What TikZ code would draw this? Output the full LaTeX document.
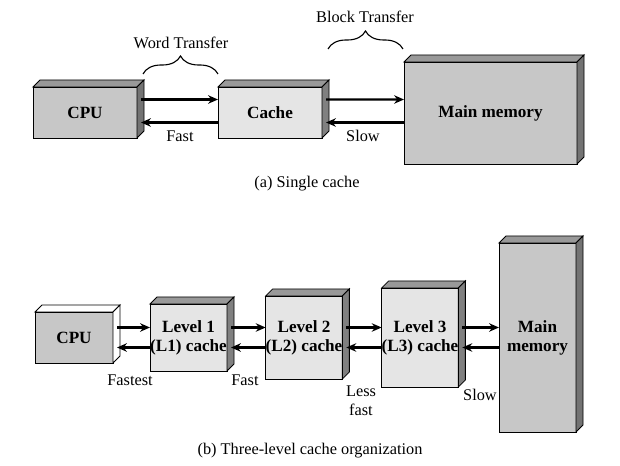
\documentclass[tikz,border=0pt]{standalone}
\usepackage{fontspec}
\setmainfont{Liberation Serif}
\usetikzlibrary{arrows.meta,decorations.pathreplacing}

\tikzset{
  unit/.style={draw=black,line width=.6pt,inner sep=0pt,outer sep=0pt,align=center,font=\fontsize{12.2}{13.5}\selectfont\bfseries},
  flow/.style={line width=1.6pt,-{Stealth[length=7pt,width=6pt]}},
  curly/.style={decorate,decoration={brace,amplitude=.45cm},line width=.8pt},
}
% top and side face of a block
\newcommand\unitfaces[3]{%
  \path[fill=#2,draw=black,line width=.6pt] (#1.north west) -- ++(7,-7) -- ([shift={(7,-7)}]#1.north east) -- (#1.north east) -- cycle;
  \path[fill=#3,draw=black,line width=.6pt] (#1.north east) -- ([shift={(7,-7)}]#1.north east) -- ([shift={(7,-7)}]#1.south east) -- (#1.south east) -- cycle;}

\begin{document}
\begin{tikzpicture}[x=.025cm,y=-.025cm,font=\fontsize{11.6}{13.5}\selectfont]
\useasboundingbox (0,0) rectangle (620,466);
% (a) single cache
\node[unit,fill=black!22,minimum width=2.6cm,minimum height=1.275cm] (cpu) at (85,112.5) {CPU};
\unitfaces{cpu}{black!40}{black!55}
\node[unit,fill=black!10,minimum width=2.6cm,minimum height=1.275cm] (cache) at (270,112.5) {Cache};
\unitfaces{cache}{black!40}{black!50}
\node[unit,fill=black!22,minimum width=4.325cm,minimum height=2.55cm] (mem) at (490.5,113) {Main memory};
\unitfaces{mem}{black!40}{black!55}
\draw[flow] ([shift={(4,-13)}]cpu.east) -- ([shift={(0,-13)}]cache.west);
\draw[flow] ([shift={(0,10)}]cache.west) -- ([shift={(4,10)}]cpu.east);
\draw[flow] ([shift={(4,-13)}]cache.east) -- ([shift={(0,-13.5)}]mem.west);
\draw[flow] ([shift={(0,9.5)}]mem.west) -- ([shift={(4,10)}]cache.east);
\draw[curly] ([shift={(6,-13)}]cpu.north east) -- ([shift={(0,-13)}]cache.north west);
\draw[curly] ([shift={(6,-38)}]cache.north east) -- ([shift={(-1,-13)}]mem.north west);
\node (word) at (181,43) {Word Transfer};
\node (block) at (365,17) {Block Transfer};
\node (fast) at (180,136) {Fast};
\node (slow) at (363,136) {Slow};
\node (capa) at (307,184) {(a) Single cache};
% (b) three-level cache
\node[unit,fill=black!22,minimum width=1.95cm,minimum height=1.275cm] (cpub) at (74,337.5) {CPU};
\unitfaces{cpub}{white}{white}
\node[unit,fill=black!10,minimum width=1.925cm,minimum height=1.675cm] (lone) at (188.5,337.5) {Level 1\\(L1) cache};
\unitfaces{lone}{black!40}{black!50}
\node[unit,fill=black!10,minimum width=1.9cm,minimum height=2.075cm] (ltwo) at (304,337.5) {Level 2\\(L2) cache};
\unitfaces{ltwo}{black!40}{black!50}
\node[unit,fill=black!10,minimum width=1.9cm,minimum height=2.475cm] (lthree) at (420,337.5) {Level 3\\(L3) cache};
\unitfaces{lthree}{black!40}{black!50}
\node[unit,fill=black!22,minimum width=1.925cm,minimum height=4.725cm] (memb) at (537.5,337.5) {Main\\memory};
\unitfaces{memb}{black!40}{black!55}
\foreach \a/\b in {cpub/lone,lone/ltwo,ltwo/lthree,lthree/memb}{
  \draw[flow] ([shift={(4,-10)}]\a.east) -- ([shift={(0,-10)}]\b.west);
  \draw[flow] ([shift={(0,10)}]\b.west) -- ([shift={(4,10)}]\a.east);
}
\node (fastest) at (130,380) {Fastest};
\node (fastb) at (245,380) {Fast};
\node[align=center] (less) at (361,401) {Less\\fast};
\node (slowb) at (480,395) {Slow};
\node (capb) at (310,451) {(b) Three-level cache organization};
\end{tikzpicture}
\end{document}
